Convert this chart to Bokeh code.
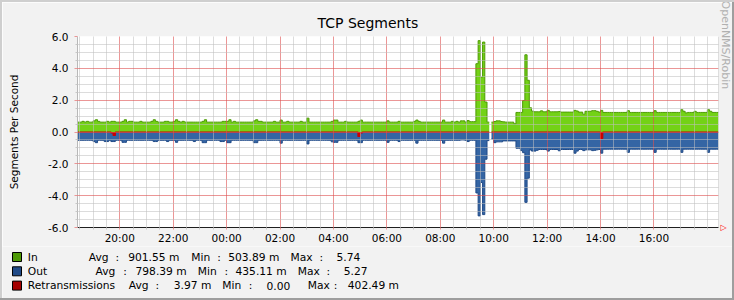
import numpy as np
from bokeh.plotting import figure
from bokeh.layouts import column, row
from bokeh.core.properties import value
from bokeh.models import (Range1d, FixedTicker, PrintfTickFormatter, Title, Span,
                          LinearAxis, Spacer)
from bokeh.embed import file_html
from bokeh.resources import INLINE

# ---------------- data ----------------
start_hour = 18 + 25 / 60.0      # first sample at 18:25
step_minutes = 5

in_segs = [
    0.62, 0.62, 0.67, 0.62, 0.67, 0.62, 0.62, 0.70, 0.77, 0.67, 0.62, 0.62,
    0.62, 0.67, 0.62, 0.67, 0.67, 0.62, 0.62, 0.62, 0.67, 0.77, 0.62, 0.67,
    0.67, 0.62, 0.62, 0.62, 0.67, 0.62, 0.62, 0.62, 0.62, 0.67, 0.77, 0.67,
    0.62, 0.62, 0.62, 0.67, 0.67, 0.62, 0.62, 0.67, 0.77, 0.67, 0.62, 0.67,
    0.62, 0.62, 0.62, 0.62, 0.62, 0.62, 0.62, 0.62, 0.67, 0.77, 0.62, 0.62,
    0.62, 0.62, 0.62, 0.62, 0.62, 0.67, 0.67, 0.67, 0.77, 0.62, 0.67, 0.62,
    0.62, 0.62, 0.62, 0.62, 0.62, 0.62, 0.62, 0.70, 0.77, 0.67, 0.67, 0.62,
    0.62, 0.62, 0.62, 0.62, 0.67, 0.62, 0.62, 0.75, 0.62, 0.62, 0.67, 0.62,
    0.62, 0.62, 0.62, 0.62, 0.67, 0.62, 0.62, 0.87, 0.62, 0.62, 0.62, 0.62,
    0.62, 0.62, 0.62, 0.62, 0.62, 0.62, 0.67, 0.75, 0.75, 0.62, 0.62, 0.62,
    0.67, 0.62, 0.62, 0.62, 0.62, 0.62, 0.67, 0.75, 0.62, 0.62, 0.62, 0.62,
    0.62, 0.62, 0.62, 0.62, 0.62, 0.62, 0.62, 0.70, 0.62, 0.62, 0.62, 0.62,
    0.67, 0.62, 0.62, 0.62, 0.62, 0.62, 0.62, 0.67, 0.75, 0.67, 0.62, 0.62,
    0.62, 0.62, 0.62, 0.62, 0.62, 0.62, 0.62, 0.62, 0.75, 0.62, 0.62, 0.62,
    0.67, 0.62, 0.67, 0.62, 0.70, 0.70, 0.62, 0.72, 0.65, 0.65, 0.65, 4.29,
    5.74, 3.44, 5.65, 1.88, 0.62, None, 0.62, 0.66, 0.70, 0.70, 0.66, 0.64,
    0.62, 0.62, 0.62, 0.62, 0.52, 1.23, 1.23, 1.23, 1.98, 4.85, 3.25, 1.52,
    1.31, 1.27, 1.27, 1.27, 1.33, 1.27, 1.27, 1.36, 1.27, 1.27, 1.27, 1.27,
    1.29, 1.25, 1.25, 1.25, 1.25, 1.25, 1.25, 1.36, 1.32, 1.25, 1.25, 1.12,
    1.30, 1.30, 1.30, 1.34, 1.34, 1.30, 1.25, 1.36, 1.23, 1.23, 1.23, 1.23,
    1.23, 1.23, 1.23, 1.23, 1.23, 1.23, 1.23, 1.34, 1.23, 1.23, 1.23, 1.23,
    1.23, 1.23, 1.23, 1.23, 1.23, 1.23, 1.23, 1.34, 1.23, 1.23, 1.23, 1.23,
    1.23, 1.23, 1.23, 1.23, 1.23, 1.23, 1.23, 1.40, 1.30, 1.20, 1.23, 1.23,
    1.23, 1.30, 1.23, 1.23, 1.23, 1.23, 1.23, 1.40, 1.30, 1.23, 1.23, 1.23,
]

out_segs = [
    0.52, 0.52, 0.52, 0.52, 0.52, 0.52, 0.52, 0.60, 0.67, 0.52, 0.52, 0.52,
    0.60, 0.60, 0.52, 0.60, 0.60, 0.52, 0.52, 0.52, 0.65, 0.65, 0.52, 0.52,
    0.52, 0.52, 0.52, 0.52, 0.52, 0.52, 0.52, 0.52, 0.52, 0.52, 0.60, 0.60,
    0.52, 0.52, 0.52, 0.52, 0.60, 0.52, 0.52, 0.52, 0.65, 0.52, 0.52, 0.52,
    0.52, 0.52, 0.52, 0.52, 0.60, 0.52, 0.52, 0.52, 0.67, 0.67, 0.52, 0.52,
    0.52, 0.52, 0.52, 0.52, 0.60, 0.60, 0.52, 0.67, 0.67, 0.52, 0.52, 0.52,
    0.52, 0.52, 0.52, 0.52, 0.52, 0.52, 0.52, 0.67, 0.67, 0.52, 0.52, 0.52,
    0.52, 0.52, 0.52, 0.52, 0.52, 0.52, 0.52, 0.70, 0.52, 0.52, 0.52, 0.52,
    0.52, 0.52, 0.52, 0.52, 0.52, 0.52, 0.52, 0.75, 0.52, 0.52, 0.52, 0.52,
    0.52, 0.52, 0.52, 0.52, 0.52, 0.52, 0.62, 0.65, 0.65, 0.52, 0.52, 0.52,
    0.52, 0.52, 0.52, 0.52, 0.52, 0.52, 0.67, 0.67, 0.52, 0.52, 0.52, 0.52,
    0.52, 0.52, 0.52, 0.52, 0.52, 0.52, 0.52, 0.65, 0.52, 0.52, 0.52, 0.52,
    0.60, 0.52, 0.52, 0.52, 0.52, 0.52, 0.52, 0.52, 0.70, 0.52, 0.52, 0.52,
    0.52, 0.52, 0.52, 0.52, 0.52, 0.52, 0.52, 0.52, 0.70, 0.52, 0.52, 0.52,
    0.52, 0.52, 0.52, 0.52, 0.50, 0.50, 0.52, 0.60, 0.52, 0.52, 0.52, 3.83,
    5.27, 3.17, 5.19, 1.71, 0.54, None, 0.44, 0.67, 0.62, 0.62, 0.62, 0.56,
    0.56, 0.56, 0.56, 0.56, 0.56, 1.02, 1.02, 1.17, 1.30, 4.42, 2.90, 1.13,
    1.20, 1.20, 1.15, 1.10, 1.10, 1.10, 1.10, 1.20, 1.10, 1.10, 1.10, 1.10,
    1.18, 1.10, 1.10, 1.10, 1.10, 1.10, 1.10, 1.33, 1.20, 1.10, 1.10, 1.17,
    1.12, 1.12, 1.12, 1.17, 1.15, 1.12, 1.10, 1.33, 1.08, 1.08, 1.08, 1.08,
    1.08, 1.08, 1.08, 1.08, 1.08, 1.08, 1.08, 1.28, 1.08, 1.08, 1.08, 1.08,
    1.08, 1.08, 1.08, 1.08, 1.08, 1.08, 1.08, 1.28, 1.08, 1.08, 1.08, 1.08,
    1.08, 1.08, 1.08, 1.08, 1.08, 1.08, 1.08, 1.28, 1.08, 1.08, 1.08, 1.08,
    1.08, 1.08, 1.08, 1.08, 1.08, 1.08, 1.08, 1.28, 1.08, 1.08, 1.08, 1.08,
]

retrans_index = [15, 16, 126, 127, 235]
retrans_value = [0.05, 0.22, 0.28, 0.06, 0.40]

x_ticks = [20, 22, 24, 26, 28, 30, 32, 34, 36, 38, 40]
x_tick_labels = ["20:00", "22:00", "00:00", "02:00", "04:00", "06:00",
                 "08:00", "10:00", "12:00", "14:00", "16:00"]
y_ticks = [-6, -4, -2, 0, 2, 4, 6]

legend_names = ["In", "Out", "Retransmissions"]
legend_avg = ["901.55 m", "798.39 m", "3.97 m"]
legend_min = ["503.89 m", "435.11 m", "0.00"]
legend_max = ["5.74", "5.27", "402.49 m"]

# ---------------- styling ----------------
IN_FILL, IN_LINE = "#73d216", "#4e9a06"
OUT_FILL, OUT_LINE = "#3465a4", "#204a87"
RET_FILL, RET_LINE, RET_LEG = "#cc0000", "#cc0000", "#a40000"
BACK = "#f2f2f2"
SHADE_A, SHADE_B = "#cfcfcf", "#9e9e9e"
FONT = "DejaVu Sans"

n = len(in_segs)
vin = np.array([np.nan if v is None else v for v in in_segs], dtype=float)
vout = np.array([np.nan if v is None else v for v in out_segs], dtype=float)
vret = np.zeros(n)
vret[retrans_index] = retrans_value
vret[np.isnan(vin)] = np.nan
edges = start_hour + np.arange(n + 1) * step_minutes / 60.0

ok = ~np.isnan(vin)
runs = []
i = 0
while i < n:
    if ok[i]:
        j = i
        while j < n and ok[j]:
            j += 1
        runs.append((i, j))
        i = j
    else:
        i += 1


def step_xy(a, b, vals):
    xs = np.repeat(edges[a:b + 1], 2)[1:-1]
    ys = np.repeat(vals[a:b], 2)
    return xs, ys


W, H = 734, 300
S = 2                       # shade width
IW = W - 2 * S              # inner width 730
TOP_H = 244                 # main figure: canvas y 2..246
LEG_H = H - 2 * S - TOP_H   # legend: canvas y 246..298

p = figure(width=IW, height=TOP_H, output_backend="svg", toolbar_location=None,
           x_range=Range1d(edges[0], edges[-1]), y_range=Range1d(-6, 6),
           min_border_left=77 - S, min_border_right=(W - S) - 718,
           min_border_top=36 - S, min_border_bottom=(S + TOP_H) - 228,
           background_fill_color="white", border_fill_color=BACK,
           outline_line_color=None)
p.frame_align = False

p.title.text = "TCP Segments"
p.title.align = "left"
p.title.offset = 240
p.title.text_font = FONT
p.title.text_font_size = "14px"
p.title.text_font_style = "normal"
p.title.text_color = "black"
p.title.standoff = 11

for a, b in runs:
    xs, yi = step_xy(a, b, vin)
    _, yo = step_xy(a, b, vout)
    _, yr = step_xy(a, b, vret)
    p.varea(x=xs, y1=0, y2=yi, fill_color=IN_FILL)
    p.line(xs, yi, line_color=IN_LINE, line_width=1)
    p.varea(x=xs, y1=0, y2=-yo, fill_color=OUT_FILL)
    p.line(xs, -yo, line_color=OUT_LINE, line_width=1)
    p.varea(x=xs, y1=0, y2=-yr, fill_color=RET_FILL)
    p.line(xs, -yr, line_color=RET_LINE, line_width=1.2)

minor_x = [h / 2.0 for h in range(37, 85) if (h / 2.0) not in x_ticks]
minor_y = [k / 2.0 for k in range(-12, 13) if (k / 2.0) not in y_ticks]
xax = p.xaxis[0]
yax = p.yaxis[0]
xax.ticker = FixedTicker(ticks=x_ticks, minor_ticks=minor_x)
yax.ticker = FixedTicker(ticks=y_ticks, minor_ticks=minor_y)
xax.major_label_overrides = dict(zip(x_ticks, x_tick_labels))
yax.formatter = PrintfTickFormatter(format="%.1f")

for g in (p.xgrid, p.ygrid):
    g.level = "guide"
    g.grid_line_color = "#de5050"
    g.grid_line_alpha = 0.6
    g.minor_grid_line_color = "#c0c0c0"
    g.minor_grid_line_alpha = 0.55

for ax in (xax, yax):
    ax.major_label_text_font = FONT
    ax.major_label_text_font_size = "10.5px"
    ax.major_label_text_color = "black"
    ax.major_tick_in = 0
    ax.minor_tick_in = 0
    ax.major_tick_line_color = "#eb9696"
    ax.minor_tick_line_color = "#c8c8c8"

yax.axis_label = "Segments Per Second"
yax.axis_label_text_font = FONT
yax.axis_label_text_font_size = "10.5px"
yax.axis_label_text_font_style = "normal"
yax.axis_label_text_color = "black"
yax.axis_label_standoff = 25
yax.axis_line_color = "#b8b8b8"
yax.major_tick_out = 3
yax.minor_tick_out = 2
yax.major_label_standoff = 6
xax.axis_line_color = "#1f1f1f"
xax.major_tick_out = 2
xax.minor_tick_out = 2
xax.major_label_standoff = 2

p.add_layout(Span(location=edges[-1], dimension="height",
                  line_color="#c0c0c0", line_width=1))

# watermark (closest to the frame on the right side)
p.add_layout(Title(text="OpenNMS/Robin", align="left", offset=-36,
                   vertical_align="middle", text_font=FONT,
                   text_font_size="11px", text_font_style="normal",
                   text_color="#b0b0b0", standoff=-2), "right")

# red arrow head at the end of the time axis (a one-tick right axis),
# pulled back towards the frame with a negative standoff
arrow_axis = LinearAxis(ticker=FixedTicker(ticks=[y_ticks[0]], minor_ticks=[]),
                        major_label_overrides={y_ticks[0]: "\u25b7"},
                        axis_line_color=None, major_tick_line_color=None,
                        minor_tick_line_color=None, major_tick_out=0,
                        minor_tick_out=0, major_tick_in=0, minor_tick_in=0,
                        major_label_standoff=-11,
                        major_label_text_color="#ff0000",
                        major_label_text_font=FONT,
                        major_label_text_font_size="8px")
p.add_layout(arrow_axis, "right")

# ---------------- legend strip (pixel coordinates) ----------------
lg = figure(width=IW, height=LEG_H, output_backend="svg", toolbar_location=None,
            x_range=Range1d(S, W - S), y_range=Range1d(H - S, S + TOP_H),
            min_border=0, x_axis_type=None, y_axis_type=None,
            background_fill_color=BACK, border_fill_color=BACK,
            outline_line_color=None)
lg.frame_align = False
lg.title.visible = False
lg.xgrid.visible = False
lg.ygrid.visible = False

row_y = [256.5, 270.8, 285.1]
sq_colors = [IN_LINE, OUT_LINE, RET_LEG]
cols = [
    [88.3, 115.0, 127.7, 190.7, 216.7, 227.7, 290.0, 319.0, 336.0],
    [95.0, 122.7, 135.0, 197.3, 224.0, 235.0, 297.3, 326.0, 343.3],
    [128.3, 155.0, 173.3, 221.7, 248.3, 266.0, 307.3, 333.3, 347.3],
]
lg.quad(left=[12] * 3, right=[21] * 3, top=[y - 4.5 for y in row_y],
        bottom=[y + 4.5 for y in row_y], fill_color=sq_colors,
        line_color="black", line_width=1)

tx, ty, tt = [], [], []
for k in range(3):
    toks = [legend_names[k], "Avg", ":", legend_avg[k], "Min", ":",
            legend_min[k], "Max", ":", legend_max[k]]
    xs_ = [27.3] + cols[k]
    for t, x in zip(toks, xs_):
        tx.append(x)
        ty.append(row_y[k])
        tt.append(t)
lg.text(x=tx, y=ty, text=tt, text_font=value(FONT),
        text_font_size=value("10.7px"), text_baseline="middle",
        text_align="left", text_color="black")

# 3D shading around the image
top_bar = Spacer(width=W, height=S, styles={"background-color": SHADE_A})
bottom_bar = Spacer(width=W, height=S, styles={"background-color": SHADE_B})
left_bar = Spacer(width=S, height=H - 2 * S, styles={"background-color": SHADE_A})
right_bar = Spacer(width=S, height=H - 2 * S, styles={"background-color": SHADE_B})

layout = column(top_bar,
                row(left_bar, column(p, lg, spacing=0), right_bar, spacing=0),
                bottom_bar, spacing=0)
open("out.html", "w").write(file_html(layout, INLINE))
